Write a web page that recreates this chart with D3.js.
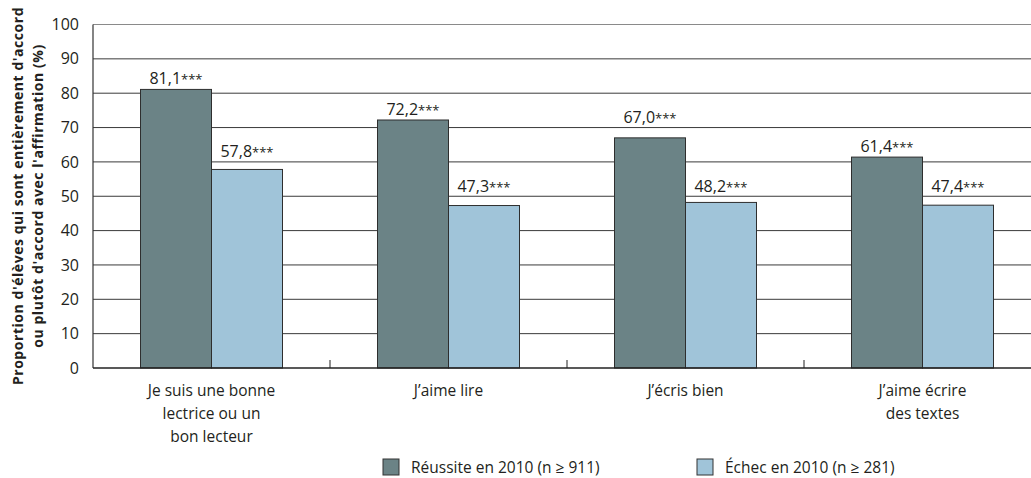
<!DOCTYPE html>
<html><head><meta charset="utf-8">
<script src="https://cdn.jsdelivr.net/npm/d3@7"></script>
<style>
html,body{margin:0;padding:0;background:#fff;}
svg{display:block;font-family:"Open Sans","Noto Sans",sans-serif;}
</style></head>
<body>
<svg id="c" width="1031" height="478"></svg>
<script>
const categories = [
  ["Je suis une bonne","lectrice ou un","bon lecteur"],
  ["J\u2019aime lire"],
  ["J\u2019\u00e9cris bien"],
  ["J\u2019aime \u00e9crire","des textes"]
];
const seriesNames = ["R\u00e9ussite en 2010 (n \u2265 911)", "\u00c9chec en 2010 (n \u2265 281)"];
const reussite = [81.1, 72.2, 67.0, 61.4];
const echec = [57.8, 47.3, 48.2, 47.4];
const significance = ["***","***","***","***"];
const yTicks = [0,10,20,30,40,50,60,70,80,90,100];
const yTitle = ["Proportion d'\u00e9l\u00e8ves qui sont enti\u00e8rement d'accord", "ou plut\u00f4t d'accord avec l'affirmation (%)"];

(function(){
const colors = ["#6b8386", "#a0c4d9"];
const svg = d3.select("#c");
const mLeft = 93, mTop = 24.5, mBottom = 368;
const bandW = 237;
const x = d3.scaleBand().domain(d3.range(categories.length)).range([mLeft, mLeft + bandW*categories.length]).padding(0);
const y = d3.scaleLinear().domain([0,100]).range([mBottom, mTop]);
const barW = 71;
const sub = d3.scaleBand().domain([0,1]).range([x.bandwidth()/2 - barW, x.bandwidth()/2 + barW]).padding(0);

svg.append("g").selectAll("line").data(yTicks.filter(t => t>0 && t<100)).join("line")
  .attr("x1", mLeft).attr("x2", 1031).attr("y1", d => y(d)).attr("y2", d => y(d))
  .attr("stroke", "#3a3a3a").attr("stroke-width", 1);
svg.append("line").attr("x1", mLeft).attr("x2", 1031).attr("y1", y(100)).attr("y2", y(100))
  .attr("stroke", "#8a8a8a").attr("stroke-width", 1.2);

svg.append("g").selectAll("text").data(yTicks).join("text")
  .attr("x", 79).attr("y", d => y(d)).attr("dy", "0.35em")
  .attr("text-anchor", "end").attr("font-size", 16).attr("fill", "#231f20")
  .text(d => d);

const series = [reussite, echec];
series.forEach((vals, s) => {
  svg.append("g").selectAll("rect").data(vals).join("rect")
    .attr("x", (d,i) => x(i) + sub(s))
    .attr("y", d => y(d))
    .attr("width", sub.bandwidth())
    .attr("height", d => mBottom - y(d))
    .attr("fill", colors[s]).attr("stroke", "#2e2e2e").attr("stroke-width", 1);
});

function labelBaseline(v) {
  let b = y(v) - 5;
  const capTop = b - 11;
  yTicks.forEach(t => {
    const gy = y(t);
    if (t > 0 && gy > capTop && gy < b + 2) b = gy - 4.5;
  });
  return b;
}
series.forEach((vals, s) => {
  const g = svg.append("g").selectAll("text").data(vals).join("text")
    .attr("x", (d,i) => x(i) + sub(s) + sub.bandwidth()/2)
    .attr("y", d => labelBaseline(d))
    .attr("text-anchor", "middle").attr("font-size", 16).attr("fill", "#231f20");
  g.append("tspan").text(d => d3.format(".1f")(d).replace(".", ","));
  g.append("tspan").attr("font-size", 13).text((d,i) => significance[i]);
});

svg.append("line").attr("x1", mLeft).attr("x2", mLeft).attr("y1", y(100)).attr("y2", mBottom)
  .attr("stroke", "#333").attr("stroke-width", 1.2);
svg.append("line").attr("x1", mLeft).attr("x2", 1031).attr("y1", mBottom).attr("y2", mBottom)
  .attr("stroke", "#222").attr("stroke-width", 1.6);
svg.append("g").selectAll("line").data(d3.range(1, categories.length)).join("line")
  .attr("x1", d => x(d)).attr("x2", d => x(d)).attr("y1", mBottom - 8).attr("y2", mBottom)
  .attr("stroke", "#222").attr("stroke-width", 1);

const cg = svg.append("g").selectAll("text").data(categories).join("text")
  .attr("text-anchor", "middle").attr("font-size", 15.5).attr("fill", "#231f20");
cg.each(function(lines, i) {
  d3.select(this).selectAll("tspan").data(lines).join("tspan")
    .attr("x", x(i) + x.bandwidth()/2)
    .attr("y", (d,j) => 396 + j*23)
    .text(d => d);
});

const yt = svg.append("text").attr("transform", "translate(0,196) rotate(-90)")
  .attr("text-anchor", "middle").attr("font-size", 14).attr("font-weight", "bold")
  .attr("letter-spacing", 0.55).attr("fill", "#231f20");
yTitle.forEach((t, i) => yt.append("tspan").attr("x", 0).attr("y", 23 + i*20).text(t));

const legX = [383, 697];
seriesNames.forEach((n, i) => {
  svg.append("rect").attr("x", legX[i]).attr("y", 459).attr("width", 16).attr("height", 16)
    .attr("fill", colors[i]).attr("stroke", "#333").attr("stroke-width", 1);
  svg.append("text").attr("x", legX[i] + 28).attr("y", 473).attr("font-size", 15.5).attr("fill", "#231f20").text(n);
});
})();
</script>
</body></html>
